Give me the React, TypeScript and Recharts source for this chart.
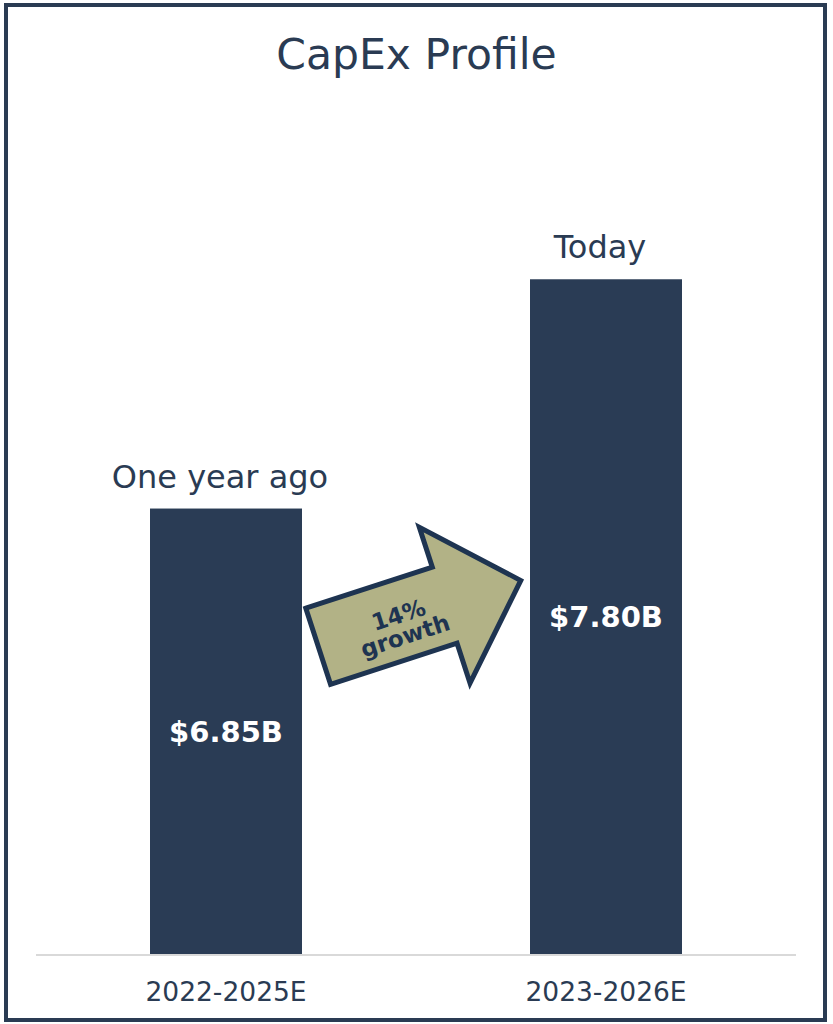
import React from 'react';
import { BarChart, Bar, XAxis, YAxis, LabelList, Customized } from 'recharts';

// chart values
const periods = ['2022-2025E', '2023-2026E'];
const capex = [6.85, 7.8];
const tags = ['One year ago', 'Today'];
const valueLabels = ['$6.85B', '$7.80B'];
const growthLines = ['14%', 'growth'];
const yDomain = [5, 8];

const data = periods.map((period, i) => ({
  period,
  capex: capex[i],
  tag: tags[i],
  label: valueLabels[i],
}));

const W = 833;
const H = 1024;
const MARGIN = { top: 231, right: 37, bottom: 29, left: 36 };
const BAND = (W - MARGIN.left - MARGIN.right) / periods.length;
const NAVY = '#2a3b53';
const BAR = '#2a3c55';
const FONT = "Verdana, 'DejaVu Sans', sans-serif";

const Title = () => (
  <text x={W / 2} y={69} textAnchor="middle" fontSize={42.5} fill={NAVY} fontFamily={FONT}>
    CapEx Profile
  </text>
);

const GrowthArrow = ({ cx, cy }: { cx: number; cy: number }) => (
  <g transform={`translate(${cx},${cy}) rotate(-18)`}>
    <polygon
      points="-106,-40 27,-40 27,-82 107,0 27,82 27,40 -106,40"
      fill="#b2b286"
      stroke="#1e3451"
      strokeWidth={5}
      strokeLinejoin="miter"
    />
    <text x={-20} y={3} textAnchor="middle" fontSize={23} fontWeight="bold" fill="#1e3451" fontFamily={FONT}>
      {growthLines[0]}
    </text>
    <text x={-20} y={25} textAnchor="middle" fontSize={23} fontWeight="bold" fill="#1e3451" fontFamily={FONT}>
      {growthLines[1]}
    </text>
  </g>
);

const BarShape = (props: any) => {
  const { x, y, width, height, index, fill } = props;
  return (
    <g>
      <rect x={x} y={y} width={width} height={height} fill={fill} />
      {index === 0 && <GrowthArrow cx={x + width / 2 + BAND / 2 + 3} cy={y + 105} />}
    </g>
  );
};

export default function App() {
  return (
    <div style={{ position: 'absolute', left: 0, top: 0, width: W, height: H, background: '#fff' }}>
      <BarChart width={W} height={H} data={data} margin={MARGIN}>
        <XAxis
          dataKey="period"
          axisLine={{ stroke: '#d9d9d9', strokeWidth: 2 }}
          tickLine={false}
          tickSize={0}
          tickMargin={27}
          height={40}
          tick={{ fill: NAVY, fontSize: 26.5, fontFamily: FONT }}
        />
        <YAxis hide domain={yDomain} />
        <Bar dataKey="capex" fill={BAR} barSize={152} shape={BarShape} isAnimationActive={false}>
          <LabelList dataKey="label" position="center" fill="#ffffff" fontSize={29} fontWeight="bold" fontFamily={FONT} />
          <LabelList dataKey="tag" position="top" offset={21} dx={-6} fill={NAVY} fontSize={32} fontFamily={FONT} />
        </Bar>
        <Customized component={<Title />} />
      </BarChart>
      <div
        style={{
          position: 'absolute',
          left: 4,
          top: 3,
          width: 823,
          height: 1019,
          border: `4px solid ${NAVY}`,
          boxSizing: 'border-box',
          pointerEvents: 'none',
        }}
      />
    </div>
  );
}
